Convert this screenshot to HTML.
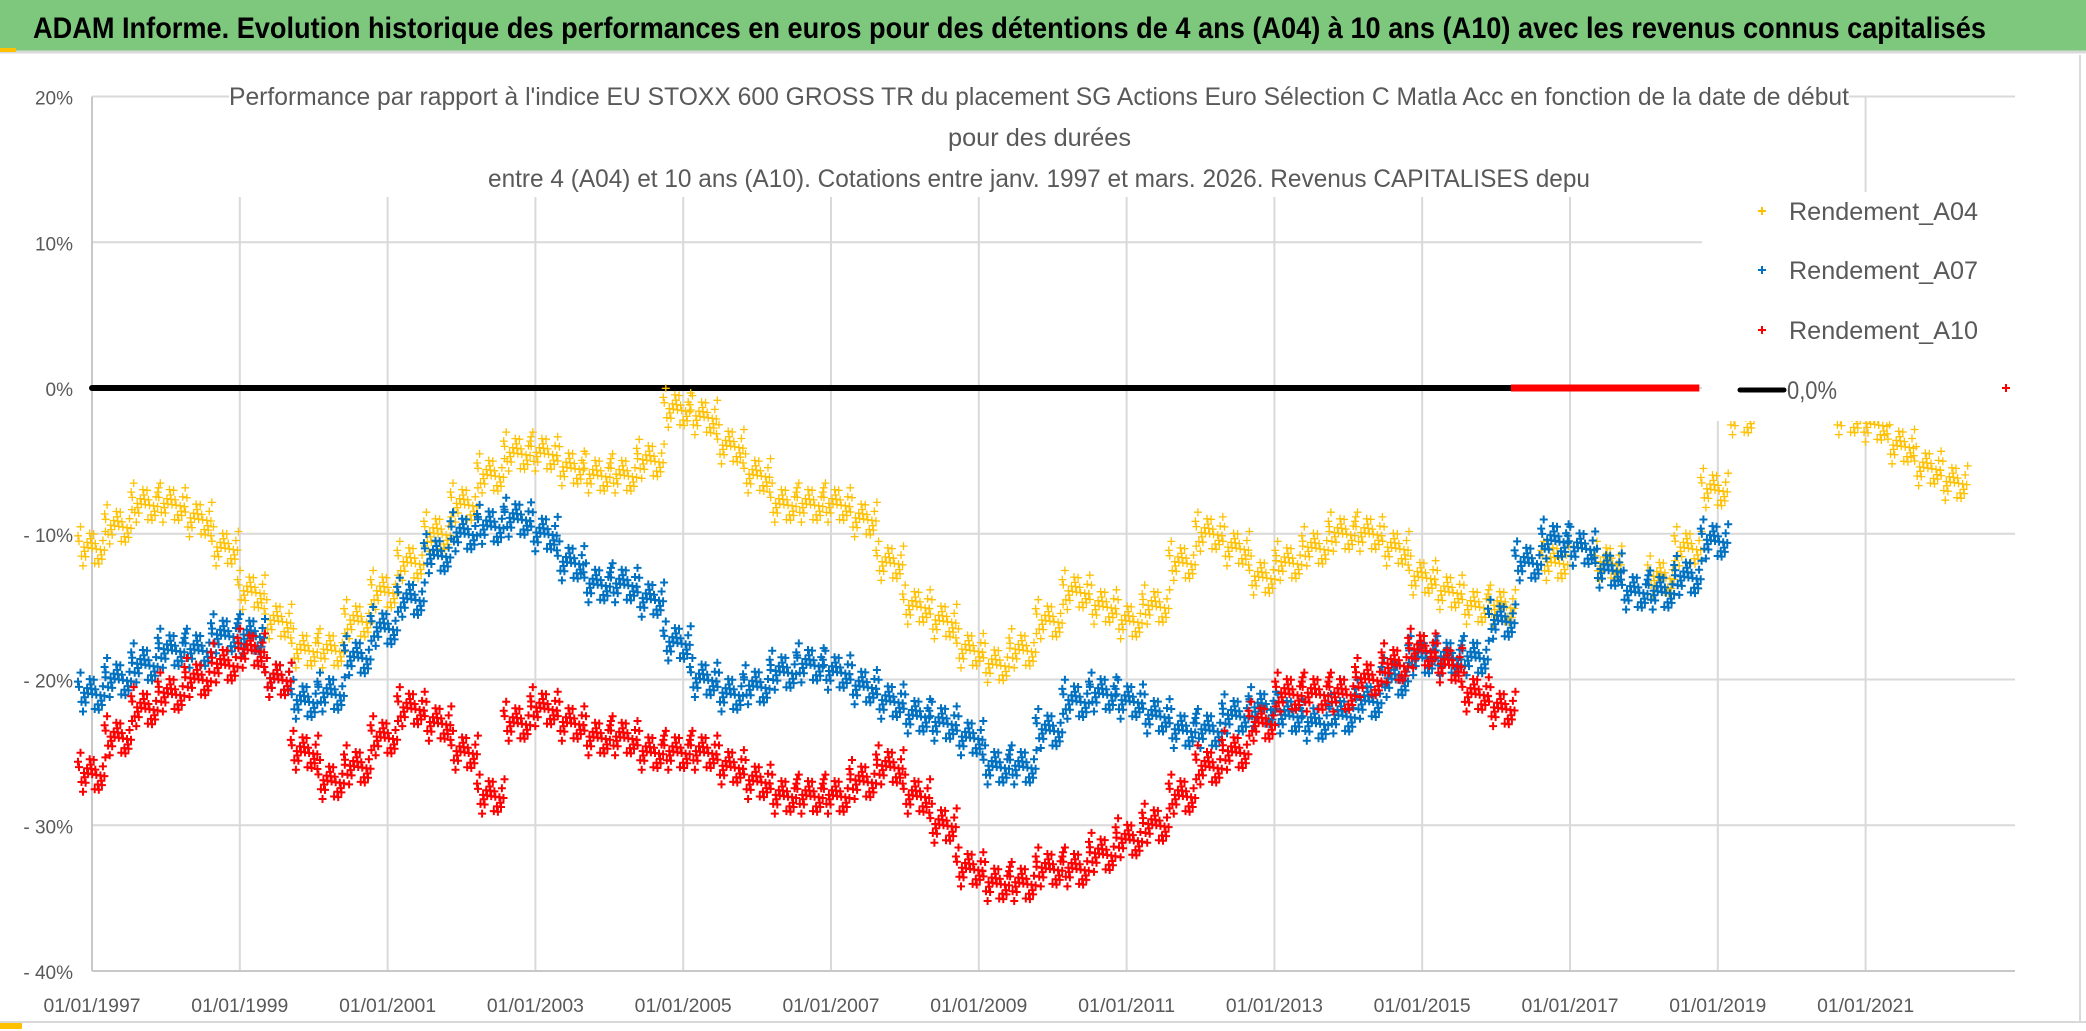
<!DOCTYPE html>
<html><head><meta charset="utf-8"><style>
html,body{margin:0;padding:0;background:#fff}
svg{display:block;font-family:"Liberation Sans",sans-serif}
</style></head><body>
<svg id="chart" width="2086" height="1031" viewBox="0 0 2086 1031">
<rect x="0" y="0" width="2086" height="1031" fill="#fff"/>
<rect x="0" y="0" width="2086" height="51" fill="#7EC87E"/>
<line x1="0" y1="52" x2="2086" y2="52" stroke="#d9d9d9" stroke-width="3"/>
<rect x="0" y="48" width="16" height="4" fill="#FFC000"/>
<text x="33" y="38" font-size="30" font-weight="bold" fill="#000" textLength="1953" lengthAdjust="spacingAndGlyphs">ADAM Informe. Evolution historique des performances en euros pour des détentions de 4 ans (A04) à 10 ans (A10) avec les revenus connus capitalisés</text>
<line x1="2080" y1="55" x2="2080" y2="1022" stroke="#d9d9d9" stroke-width="2"/>
<line x1="0" y1="1022" x2="2086" y2="1022" stroke="#d9d9d9" stroke-width="2"/>
<rect x="0" y="1023" width="22" height="6" fill="#FFC000"/>
<g id="grid"></g>
<g id="marks"></g>
<g id="overlay"></g>
</svg>
<script>
const svg = document.getElementById('chart');
const NS = 'http://www.w3.org/2000/svg';
const yTicks = [20, 10, 0, -10, -20, -30, -40];
const yTickLabels = ['20%', '10%', '0%', '- 10%', '- 20%', '- 30%', '- 40%'];
const xTicks = [1997, 1999, 2001, 2003, 2005, 2007, 2009, 2011, 2013, 2015, 2017, 2019, 2021];
const xTickLabels = ['01/01/1997','01/01/1999','01/01/2001','01/01/2003','01/01/2005','01/01/2007','01/01/2009','01/01/2011','01/01/2013','01/01/2015','01/01/2017','01/01/2019','01/01/2021'];
const startYear = 1997.0;
const stepYears = 0.36;
const rendementA04 = [-11,-9.5,-8,-8,-9,-11,-14,-16,-18,-18,-16,-14,-12,-10,-8,-6,-4.5,-4.5,-5.5,-6,-6,-5,-1.5,-2,-4,-6,-8,-8,-8,-9,-12,-15,-16,-18,-19,-18,-16,-14,-15,-16,-15,-12,-10,-11,-13,-12,-11,-10,-10,-11,-13,-14,-15,-15,-12,-12,-11,-12,-14,-13,-11,-7,-2,1,2,1,-2,-2.5,-4,-5.5,-6.5];
const rendementA07 = [-21,-20,-19,-18,-18,-17,-17,-20,-21.5,-21,-18.5,-16.5,-14.5,-11.5,-10,-9.5,-9,-10,-12,-13.5,-13.5,-14.5,-17.5,-20,-21,-20.5,-19.5,-19,-19.5,-20.5,-21.5,-22.5,-23,-24,-26,-26,-23.5,-21.5,-21,-21.5,-22.5,-23.5,-23.5,-22.5,-22,-22.5,-23,-22.5,-21.5,-20,-18.5,-18.5,-18.5,-16,-12,-10.5,-11,-12.5,-14,-14,-13,-10.5];
const rendementA10 = [-26.5,-24,-22,-21,-20,-19,-18,-20,-25,-27,-26,-24,-22,-23,-25,-28,-23,-22,-23,-24,-24,-25,-25,-25,-26,-27,-28,-28,-28,-27,-26,-28,-30,-33,-34,-34,-33,-33,-32,-31,-30,-28,-26,-25,-23,-21,-21,-21,-20,-19,-18,-19,-21,-22];
const a10ZeroStart = 2016.2, a10ZeroEnd = 2018.75, a10ZeroLast = 2022.9;

const X0 = 92, PX_PER_YEAR = 73.9, Y0 = 388, PX_PER_PCT = 14.575;
function xScale(yr){ return X0 + (yr - 1997) * PX_PER_YEAR; }
function yScale(v){ return Y0 - v * PX_PER_PCT; }
function mk(tag, attrs, parent){ const e = document.createElementNS(NS, tag); for (const k in attrs) e.setAttribute(k, attrs[k]); parent.appendChild(e); return e; }
const grid = document.getElementById('grid'), marks = document.getElementById('marks'), overlay = document.getElementById('overlay');
const plotRight = 2015, plotTop = yScale(20), plotBottom = yScale(-40);

yTicks.forEach((t, i) => {
  const l = mk('line', {x1: X0, x2: plotRight, y1: yScale(t), y2: yScale(t), stroke: '#d9d9d9', 'stroke-width': 2}, grid);
  
  
  const tx = mk('text', {x: 73, y: yScale(t) + 8, 'font-size': 19, fill: '#595959', 'text-anchor': 'end'}, grid);
  tx.textContent = yTickLabels[i];
  
  
});
xTicks.forEach((t, i) => {
  const l = mk('line', {x1: xScale(t), x2: xScale(t), y1: plotTop, y2: plotBottom, stroke: '#d9d9d9', 'stroke-width': 2}, grid);
  
  
  const tx = mk('text', {x: xScale(t), y: 1012, 'font-size': 19, fill: '#595959', 'text-anchor': 'middle', textLength: 97, lengthAdjust: 'spacingAndGlyphs'}, grid);
  tx.textContent = xTickLabels[i];
  
  
});
const ax = mk('line', {x1: X0, x2: X0, y1: plotTop, y2: plotBottom, stroke: '#c8c8c8', 'stroke-width': 2}, grid);


const bx = mk('line', {x1: X0, x2: plotRight, y1: plotBottom, y2: plotBottom, stroke: '#c8c8c8', 'stroke-width': 2}, grid);



const zl = mk('line', {x1: X0, x2: xScale(a10ZeroStart), y1: yScale(0), y2: yScale(0), stroke: '#000', 'stroke-width': 6, 'stroke-linecap': 'round'}, marks);



// marker spread pattern (style only)
const offs = [];
for (let k = 0; k < 26; k++) {
  const a = (k * 0.6180339) % 1, b = (k * 0.7548777 + 0.31) % 1, c = (k * 0.5698403 + 0.17) % 1;
  offs.push([(a - 0.5) * 28, ((b + c) / 2 - 0.5) * 48]);
}
function plus(g, x, y, color, sw, s){
  return mk('path', {d: `M${(x-s).toFixed(1)} ${y.toFixed(1)}h${2*s}M${x.toFixed(1)} ${(y-s).toFixed(1)}v${2*s}`, stroke: color, 'stroke-width': sw, fill: 'none'}, g);
}
function series(values, color, sw, name){
  const g = mk('g', {}, marks);
  
  
  values.forEach((v, i) => {
    const cx = xScale(startYear + i * stepYears), cy = yScale(v);
    offs.forEach(o => {
      const p = plus(g, cx + o[0], cy + o[1], color, sw, 4);
      
      
    });
  });
}
series(rendementA04, '#FFC000', 1.3, 'series-a04');
series(rendementA07, '#0070C0', 2, 'series-a07');
series(rendementA10, '#FF0000', 2, 'series-a10');
const rz = mk('line', {x1: xScale(a10ZeroStart), x2: xScale(a10ZeroEnd), y1: yScale(0), y2: yScale(0), stroke: '#FF0000', 'stroke-width': 7}, marks);



const tb = mk('rect', {x: 229, y: 80, width: 1620, height: 117, fill: '#fff'}, overlay);


const titleLines = [["Performance par rapport à l'indice EU STOXX 600 GROSS TR  du placement SG Actions Euro Sélection C Matla Acc en fonction de la date de début", 229, 105, 1620], ["pour des durées", 948, 146, 183], ["entre 4 (A04) et 10 ans (A10). Cotations entre janv. 1997 et mars. 2026. Revenus CAPITALISES depu", 488, 187, 1102]];
titleLines.forEach(t => {
  const tx = mk('text', {x: t[1], y: t[2], 'font-size': 25, fill: '#595959', textLength: t[3], lengthAdjust: 'spacingAndGlyphs'}, overlay);
  tx.textContent = t[0];
  
  
});
const lb = mk('rect', {x: 1702, y: 192, width: 314, height: 229, fill: '#fff'}, overlay);


const legendNames = ['Rendement_A04', 'Rendement_A07', 'Rendement_A10'];
const legendColors = ['#FFC000', '#0070C0', '#FF0000'];
const legendY = [211, 270, 330];
legendNames.forEach((n, i) => {
  const p = plus(overlay, 1762, legendY[i], legendColors[i], 2, 4);
  
  
  const tx = mk('text', {x: 1789, y: legendY[i] + 9, 'font-size': 25, fill: '#595959', textLength: 189, lengthAdjust: 'spacingAndGlyphs'}, overlay);
  tx.textContent = n;
  
  
});
const ll = mk('line', {x1: 1740, x2: 1784, y1: 390, y2: 390, stroke: '#000', 'stroke-width': 5, 'stroke-linecap': 'round'}, overlay);


const lt = mk('text', {x: 1787, y: 399, 'font-size': 25, fill: '#595959', textLength: 50, lengthAdjust: 'spacingAndGlyphs'}, overlay);
lt.textContent = '0,0%';


const lastRed = plus(overlay, xScale(a10ZeroLast), yScale(0), '#FF0000', 2, 4);


</script>
</body></html>
